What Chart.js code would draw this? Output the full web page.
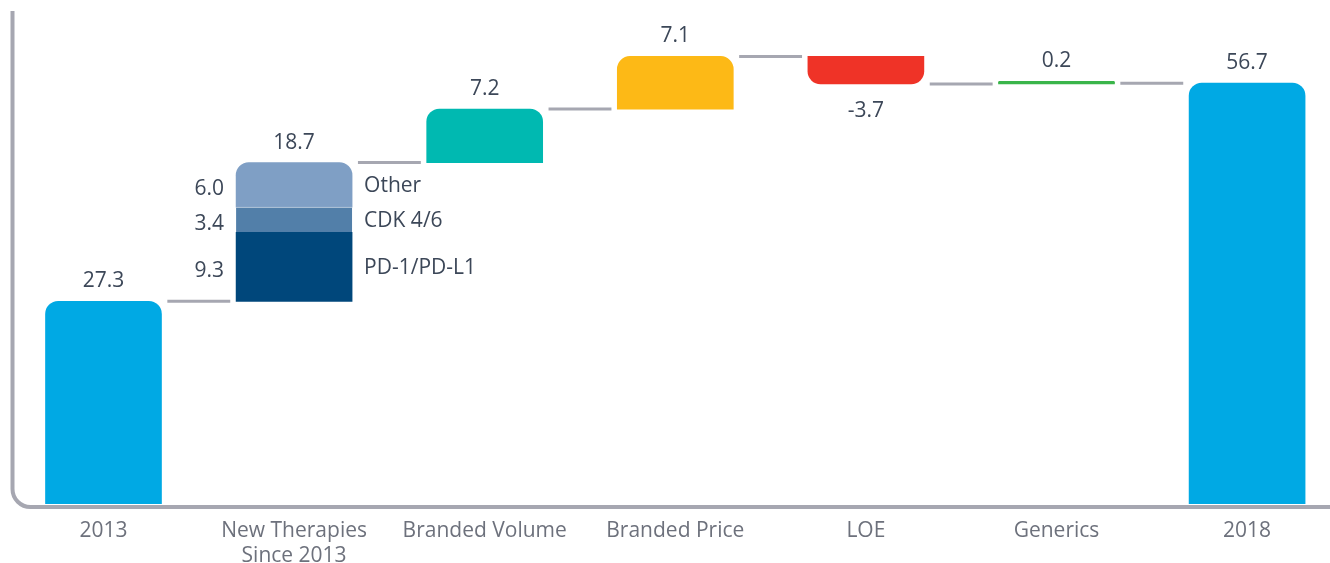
<!DOCTYPE html>
<html>
<head>
<meta charset="utf-8">
<script src="https://cdn.jsdelivr.net/npm/chart.js@4/dist/chart.umd.min.js"></script>
<style>
  html, body { margin: 0; padding: 0; background: #fff; }
  #wrap { width: 1330px; height: 563px; position: relative; }
</style>
</head>
<body>
<div id="wrap"><canvas id="chart"></canvas></div>
<script>
// Waterfall data (US$ Bn)
const categories = [['2013'], ['New Therapies', 'Since 2013'], ['Branded Volume'], ['Branded Price'], ['LOE'], ['Generics'], ['2018']];
// floating steps [start, end]; index 1 is built from the segments below
const stepBars = [[0, 27.3], null, [46.0, 53.2], [53.2, 60.3], [60.3, 56.6], [56.6, 56.8], [0, 56.7]];
const stepLabels = ['27.3', null, '7.2', '7.1', '-3.7', '0.2', '56.7'];
const stepColors = ['#00a9e4', null, '#00b9b1', '#fdb916', '#ef3327', '#3ab54a', '#00a9e4'];

const segNames = ['PD-1/PD-L1', 'CDK 4/6', 'Other'];
const segValues = [9.3, 3.4, 6.0];
const segColors = ['#00477b', '#527fa9', '#7f9fc5'];
const newTherapiesTotal = '18.7';

// level of the grey connector after each bar
const connectorLevels = [27.3, 46.0, 53.2, 60.3, 56.6, 56.7];

const axisGrey = '#a6a7b1';
const valueColor = '#3c4758';
const catColor = '#6d717c';
const FONT = "'Open Sans', sans-serif";
const RADIUS = 13;

// Main step dataset
const mainData = [];
stepBars.forEach((b, i) => { if (b) mainData.push({ x: i, y: b }); });

const datasets = [{
    label: 'steps',
    data: mainData,
    backgroundColor: ctx => stepColors[ctx.raw.x],
    borderSkipped: false,
    borderRadius: ctx => {
        const b = ctx.raw.y;
        return b[1] < b[0]
            ? { topLeft: 0, topRight: 0, bottomLeft: RADIUS, bottomRight: RADIUS }
            : { topLeft: RADIUS, topRight: RADIUS, bottomLeft: 0, bottomRight: 0 };
    },
    minBarLength: 2.5,
    grouped: false,
    barThickness: 116
}];

// New therapies stacked segments
let segStart = stepBars[0][1];
segValues.forEach((v, i) => {
    const start = segStart;
    const end = +(segStart + v).toFixed(1);
    segStart = end;
    datasets.push({
        label: segNames[i],
        data: [{ x: 1, y: [start, end] }],
        backgroundColor: segColors[i],
        borderColor: '#c8d5e5',
        borderWidth: i === 1 ? { top: 1, bottom: 0, left: 0, right: 0 } : 0,
        borderSkipped: false,
        borderRadius: i === segValues.length - 1
            ? { topLeft: RADIUS, topRight: RADIUS, bottomLeft: 0, bottomRight: 0 } : 0,
        grouped: false,
        barThickness: 116
    });
});

// Connectors between bars
connectorLevels.forEach((v, i) => {
    datasets.push({
        type: 'line',
        label: 'conn' + i,
        data: [{ x: i + 0.335, y: v }, { x: i + 0.665, y: v }],
        borderColor: axisGrey,
        borderWidth: 3,
        pointRadius: 0,
        borderCapStyle: 'butt'
    });
});

// Rounded L-shaped axis line
const axisPlugin = {
    id: 'axisLine',
    beforeDatasetsDraw(chart) {
        const { ctx } = chart;
        const y0 = chart.scales.y.getPixelForValue(0) + 3;
        const x0 = 12.5, r = 18;
        ctx.save();
        ctx.strokeStyle = axisGrey;
        ctx.lineWidth = 4;
        ctx.beginPath();
        ctx.moveTo(x0, 11);
        ctx.lineTo(x0, y0 - r);
        ctx.arcTo(x0, y0, x0 + r, y0, r);
        ctx.lineTo(chart.width, y0);
        ctx.stroke();
        ctx.restore();
    }
};

// Value and segment labels
const labelPlugin = {
    id: 'valueLabels',
    afterDatasetsDraw(chart) {
        const { ctx } = chart;
        ctx.save();
        ctx.font = '21px ' + FONT;
        ctx.fillStyle = valueColor;
        ctx.textBaseline = 'middle';
        ctx.textAlign = 'center';

        chart.getDatasetMeta(0).data.forEach((el, k) => {
            const idx = mainData[k].x;
            const b = mainData[k].y;
            const top = Math.min(el.y, el.base);
            const bottom = Math.max(el.y, el.base);
            if (b[1] < b[0]) ctx.fillText(stepLabels[idx], el.x, bottom + 27);
            else ctx.fillText(stepLabels[idx], el.x, top - 20);
        });

        segValues.forEach((v, i) => {
            const el = chart.getDatasetMeta(i + 1).data[0];
            const half = el.width / 2;
            const mid = (el.y + el.base) / 2;
            ctx.textAlign = 'right';
            ctx.fillText(v.toFixed(1), el.x - half - 12, mid + 4);
            ctx.textAlign = 'left';
            ctx.fillText(segNames[i], el.x + half + 12, mid + 1);
            if (i === segValues.length - 1) {
                ctx.textAlign = 'center';
                ctx.fillText(newTherapiesTotal, el.x, el.y - 20);
            }
        });
        ctx.restore();
    }
};

new Chart(document.getElementById('chart'), {
    type: 'bar',
    data: { datasets },
    options: {
        responsive: true,
        maintainAspectRatio: false,
        animation: false,
        layout: { padding: { top: 0, left: 0, right: 0, bottom: -21 } },
        plugins: {
            legend: { display: false },
            tooltip: { enabled: false }
        },
        scales: {
            x: {
                type: 'linear',
                offset: false,
                min: -0.543,
                max: 6.435,
                grid: { display: false, drawTicks: false },
                border: { display: false },
                afterBuildTicks: axis => {
                    axis.ticks = categories.map((c, i) => ({ value: i }));
                },
                afterFit: axis => {
                    axis.paddingLeft = 0;
                    axis.paddingRight = 0;
                },
                ticks: {
                    autoSkip: false,
                    maxRotation: 0,
                    padding: 15,
                    color: catColor,
                    font: { family: FONT, size: 21, lineHeight: '25px' },
                    callback: v => categories[v]
                }
            },
            y: {
                display: false,
                min: 0,
                max: 67.9
            }
        }
    },
    plugins: [axisPlugin, labelPlugin]
});
</script>
</body>
</html>
